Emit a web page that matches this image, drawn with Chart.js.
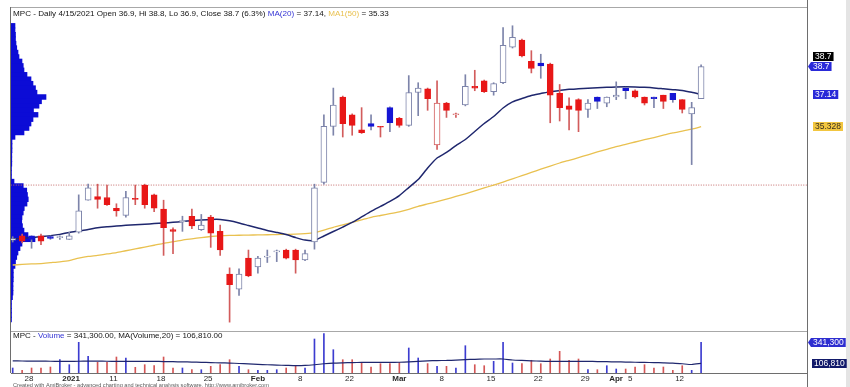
<!DOCTYPE html>
<html>
<head>
<meta charset="utf-8">
<title>MPC - Daily</title>
<script src="https://cdn.jsdelivr.net/npm/chart.js@4.4.1/dist/chart.umd.min.js"></script>
<style>
  html, body { margin: 0; padding: 0; background: #ffffff; overflow: hidden; }
  canvas { display: block; }
</style>
</head>
<body>
<canvas id="priceChart" width="850" height="387"></canvas>
<script>
// ---- data ----
const symbol = 'MPC';
const dates = [
  '2020-12-25','2020-12-28','2020-12-29','2020-12-30','2020-12-31',
  '2021-01-04','2021-01-05','2021-01-06','2021-01-07','2021-01-08',
  '2021-01-11','2021-01-12','2021-01-13','2021-01-14','2021-01-15',
  '2021-01-18','2021-01-19','2021-01-20','2021-01-21','2021-01-22',
  '2021-01-25','2021-01-26','2021-01-27','2021-01-28','2021-01-29',
  '2021-02-01','2021-02-02','2021-02-03','2021-02-04','2021-02-05',
  '2021-02-08','2021-02-09','2021-02-17','2021-02-18','2021-02-19',
  '2021-02-22','2021-02-23','2021-02-24','2021-02-25','2021-02-26',
  '2021-03-01','2021-03-02','2021-03-03','2021-03-04','2021-03-05',
  '2021-03-08','2021-03-09','2021-03-10','2021-03-11','2021-03-12',
  '2021-03-15','2021-03-16','2021-03-17','2021-03-18','2021-03-19',
  '2021-03-22','2021-03-23','2021-03-24','2021-03-25','2021-03-26',
  '2021-03-29','2021-03-30','2021-03-31','2021-04-01','2021-04-02',
  '2021-04-05','2021-04-06','2021-04-07','2021-04-08','2021-04-09',
  '2021-04-12','2021-04-13','2021-04-14','2021-04-15'
];
const opens = [
  28.95, 29.2, 29.2, 29.2, 29.15, 29.1, 29.0, 29.4, 31.2, 31.4,
  31.35, 30.75, 30.35, 31.3, 32.05, 31.5, 30.7, 29.55, 30.0, 30.3,
  29.55, 30.25, 29.45, 27.05, 26.2, 27.95, 27.45, 28.0, 28.3, 28.4,
  28.4, 27.85, 28.85, 32.2, 35.35, 37.0, 36.0, 35.15, 35.5, 35.35,
  36.4, 35.8, 35.4, 37.25, 37.45, 34.3, 36.65, 36.0, 36.55, 37.6,
  37.9, 37.3, 37.8, 39.8, 40.2, 39.0, 38.9, 38.85, 37.2, 36.5,
  36.85, 36.3, 37.0, 36.65, 37.0, 37.5, 37.35, 37.0, 37.0, 37.1,
  37.2, 36.85, 36.05, 36.9
];
const highs = [
  29.15, 29.3, 29.2, 29.3, 29.2, 29.2, 29.4, 31.5, 32.1, 32.1,
  32.05, 31.0, 31.7, 32.05, 32.1, 31.55, 31.2, 29.65, 30.3, 30.7,
  30.4, 30.35, 29.8, 27.4, 27.35, 28.4, 28.05, 28.4, 28.4, 28.45,
  28.45, 28.4, 32.1, 36.0, 37.5, 37.05, 36.05, 36.4, 36.0, 35.35,
  36.45, 35.85, 38.2, 37.8, 37.5, 37.9, 36.7, 36.1, 38.25, 38.5,
  37.95, 37.8, 40.9, 41.0, 40.25, 39.6, 39.4, 38.9, 37.7, 36.95,
  36.9, 36.85, 37.0, 37.0, 37.85, 37.55, 37.4, 37.0, 37.0, 37.1,
  37.2, 36.85, 36.7, 38.8
];
const lows = [
  28.85, 28.8, 28.5, 28.7, 29.0, 29.0, 29.0, 29.35, 31.2, 30.75,
  30.9, 30.3, 30.25, 30.95, 30.75, 30.55, 28.1, 28.2, 29.45, 29.6,
  29.5, 28.55, 28.1, 24.35, 25.85, 26.9, 27.1, 27.7, 27.75, 27.9,
  27.1, 27.8, 28.45, 32.1, 34.85, 34.75, 34.85, 34.95, 35.15, 34.75,
  35.05, 35.3, 35.35, 35.95, 36.25, 34.05, 35.85, 35.85, 36.5, 37.35,
  37.25, 37.1, 37.75, 39.75, 39.25, 38.35, 38.05, 35.55, 35.65, 35.15,
  35.05, 35.85, 36.35, 36.45, 36.85, 36.9, 36.95, 36.55, 36.4, 36.35,
  36.7, 36.1, 33.2, 36.9
];
const closes = [
  29.05, 28.9, 29.0, 28.9, 29.05, 29.1, 29.2, 30.6, 31.9, 31.25,
  30.95, 30.6, 31.35, 31.25, 30.95, 30.75, 29.65, 29.45, 30.05, 29.75,
  29.8, 29.35, 28.4, 26.45, 27.05, 26.95, 27.95, 28.05, 28.3, 27.95,
  27.85, 28.2, 31.9, 35.35, 36.55, 35.5, 35.4, 35.0, 35.35, 35.3,
  35.55, 35.4, 37.25, 37.5, 36.9, 36.65, 36.25, 36.0, 37.6, 37.5,
  37.3, 37.75, 39.9, 40.35, 39.3, 38.6, 38.75, 37.1, 36.4, 36.3,
  36.25, 36.65, 36.75, 37.0, 37.1, 37.35, 37.0, 36.65, 36.9, 36.75,
  36.85, 36.3, 36.4, 38.7
];
const ma20 = [
  29.02, 29.06, 29.10, 29.16, 29.21, 29.28, 29.39, 29.47, 29.55, 29.65,
  29.71, 29.75, 29.79, 29.82, 29.85, 29.89, 29.92, 29.96, 30.00, 30.05,
  30.09, 30.12, 30.12, 30.04, 29.92, 29.78, 29.64, 29.50, 29.39, 29.27,
  29.10, 28.96, 28.94, 29.19, 29.44, 29.69, 29.95, 30.26, 30.57, 30.85,
  31.13, 31.46, 31.91, 32.36, 33.01, 33.57, 33.88, 34.27, 34.61, 35.06,
  35.51, 35.90, 36.38, 36.72, 36.91, 37.08, 37.19, 37.30, 37.36, 37.43,
  37.46, 37.49, 37.52, 37.54, 37.56, 37.57, 37.56, 37.54, 37.51, 37.46,
  37.41, 37.36, 37.26, 37.14
];
const ma50 = [
  27.56, 27.59, 27.62, 27.64, 27.69, 27.74, 27.81, 27.94, 28.04, 28.10,
  28.18, 28.25, 28.36, 28.46, 28.57, 28.67, 28.78, 28.87, 28.96, 29.03,
  29.10, 29.16, 29.20, 29.22, 29.23, 29.24, 29.25, 29.26, 29.27, 29.28,
  29.29, 29.32, 29.38, 29.52, 29.68, 29.82, 29.96, 30.10, 30.24, 30.34,
  30.44, 30.55, 30.69, 30.86, 30.99, 31.12, 31.26, 31.41, 31.56, 31.72,
  31.89, 32.05, 32.22, 32.40, 32.58, 32.76, 32.94, 33.12, 33.29, 33.44,
  33.59, 33.75, 33.91, 34.06, 34.21, 34.34, 34.47, 34.60, 34.72, 34.85,
  34.98, 35.08, 35.19, 35.328
];
const vols = [
  55800, 30100, 55800, 55800, 66900, 148400, 92600, 342400, 186300, 119300,
  119300, 178500, 167300, 63600, 92600, 81400, 178500, 55800, 55800, 36800,
  36800, 74700, 92600, 148400, 74700, 36800, 30100, 30100, 36800, 55800,
  74700, 55800, 379200, 438400, 259900, 148400, 148400, 119300, 66900, 103700,
  103700, 119300, 278900, 167300, 105000, 74700, 74700, 55800, 304500, 92600,
  81400, 130500, 342400, 111500, 103700, 141700, 103700, 156200, 242000, 141700,
  156200, 36800, 36800, 81400, 44600, 44600, 66900, 92600, 55800, 66900,
  30100, 81400, 30100, 341300
];
const volMa20 = [
  135000, 134000, 133000, 132000, 131000, 130000, 130000, 131000, 132000, 132000,
  131000, 130000, 130000, 129000, 129000, 129000, 128000, 126000, 124000, 122000,
  119000, 116000, 113000, 111000, 106000, 101000, 96000, 92000, 88000, 85000,
  82000, 84000, 92000, 103000, 111000, 114000, 116000, 118000, 118000, 118000,
  118000, 120000, 125000, 130000, 136000, 139000, 140000, 144000, 149000, 153000,
  156000, 156000, 156000, 145000, 140000, 136000, 132000, 129000, 129000, 129000,
  129000, 129000, 128000, 126000, 124000, 122000, 120000, 118000, 116000, 114000,
  111000, 103000, 95000, 106810
];
// volume-at-price profile (levels in price, volume in thousands)
const profLevels = [
  41.0, 40.75, 40.5, 40.25, 40.0, 39.75, 39.5, 39.25, 39.0, 38.75,
  38.5, 38.25, 38.0, 37.75, 37.5, 37.25, 37.0, 36.75, 36.5, 36.25,
  36.0, 35.75, 35.5, 35.25, 35.0, 34.75, 34.5, 34.25, 34.0, 33.75,
  33.5, 33.25, 33.0, 32.75, 32.5, 32.25, 32.0, 31.75, 31.5, 31.25,
  31.0, 30.75, 30.5, 30.25, 30.0, 29.75, 29.5, 29.25, 29.0, 28.75,
  28.5, 28.25, 28.0, 27.75, 27.5, 27.25, 27.0, 26.75, 26.5, 26.25,
  26.0, 25.75, 25.5, 25.25, 25.0, 24.75, 24.5
];
const profVols = [
  80, 80, 90, 90, 100, 115, 140, 160, 220, 245,
  260, 320, 400, 440, 490, 520, 700, 610, 560, 450,
  540, 440, 400, 360, 260, 80, 20, 20, 20, 16,
  16, 16, 10, 10, 10, 60, 245, 315, 330, 345,
  320, 265, 245, 220, 215, 230, 260, 340, 480, 220,
  180, 140, 115, 90, 80, 46, 46, 46, 40, 40,
  40, 30, 10, 10, 10, 10, 10
];
const refLevel = 32.05;

// ---- look ----
const FONT = "'Liberation Sans', Arial, sans-serif";
const RED = '#e81717';
const BLUE = '#1616d4';
const UP_LINE = '#7d84aa';
const DOWN_LINE = '#d25c5c';
const NAVY = '#1f276e';
const GOLD = '#e9c150';
const PROFILE_BLUE = '#0c0cd6';
const VOL_BLUE = '#3c3cd0';
const VOL_RED = '#d45656';
const TICK_SHIFT = 0.25;
const MONTHS = ['Jan','Feb','Mar','Apr','May','Jun','Jul','Aug','Sep','Oct','Nov','Dec'];

const lastIdx = closes.length - 1;
Chart.defaults.font.family = FONT;

function closedUp(i) { return i === 0 || closes[i] >= closes[i - 1]; }
function bodyFill(i) {
  if (closes[i] >= opens[i]) return '#ffffff';
  return closedUp(i) ? BLUE : RED;
}
function bodyLine(i) {
  if (closes[i] >= opens[i]) return closedUp(i) ? UP_LINE : DOWN_LINE;
  return closedUp(i) ? BLUE : RED;
}
function wickColor(i) { return closedUp(i) ? UP_LINE : DOWN_LINE; }

function dateParts(i) {
  const [y, m, d] = dates[i].split('-').map(Number);
  return { y, m, d };
}
function monthStart(i) { return i > 0 && dateParts(i).m !== dateParts(i - 1).m; }
function isMonday(i) {
  const p = dateParts(i);
  return new Date(Date.UTC(p.y, p.m - 1, p.d)).getUTCDay() === 1;
}
function tickText(i) {
  const p = dateParts(i);
  if (monthStart(i)) return p.m === 1 ? String(p.y) : MONTHS[p.m - 1];
  return String(p.d);
}
const tickIdx = dates.map((_, i) => i).filter(i => monthStart(i) || isMonday(i));

function fmtVol(v) {
  return v.toLocaleString('en-US', { minimumFractionDigits: 2, maximumFractionDigits: 2 });
}

function drawSegments(ctx, x, y, segs) {
  segs.forEach(([txt, col]) => {
    ctx.fillStyle = col;
    ctx.fillText(txt, x, y);
    x += ctx.measureText(txt).width;
  });
}

function drawTag(ctx, text, yc, x0, bg, fg, arrow) {
  ctx.font = '8.5px ' + FONT;
  const w = ctx.measureText(text).width + 4;
  const h = 9;
  const top = Math.round(yc - h / 2);
  ctx.fillStyle = bg;
  ctx.fillRect(x0, top, w, h);
  if (arrow) {
    ctx.beginPath();
    ctx.moveTo(x0 - 3, top + h / 2);
    ctx.lineTo(x0, top);
    ctx.lineTo(x0, top + h);
    ctx.closePath();
    ctx.fill();
  }
  ctx.fillStyle = fg;
  ctx.textBaseline = 'middle';
  ctx.fillText(text, x0 + 2, top + h / 2 + 0.5);
}

const paneFrame = {
  id: 'paneFrame',
  afterDatasetsDraw(chart) {
    const { ctx, chartArea: { left, right, top, bottom } } = chart;
    const sep = Math.round(chart.scales.y.bottom) + 0.5;
    ctx.save();
    ctx.lineWidth = 1;
    ctx.strokeStyle = '#a8a8a8';
    ctx.beginPath();
    ctx.moveTo(left, top + 0.5); ctx.lineTo(right, top + 0.5);
    ctx.moveTo(left, sep); ctx.lineTo(right, sep);
    ctx.stroke();
    ctx.strokeStyle = '#6e6e6e';
    ctx.beginPath();
    ctx.moveTo(left - 0.5, top); ctx.lineTo(left - 0.5, bottom);
    ctx.moveTo(left, bottom + 0.5); ctx.lineTo(right, bottom + 0.5);
    ctx.moveTo(right + 0.5, 0); ctx.lineTo(right + 0.5, chart.height);
    ctx.stroke();
    ctx.fillStyle = '#e4e4e4';
    ctx.fillRect(chart.width - 4, 0, 4, chart.height);
    ctx.restore();
  }
};

const captions = {
  id: 'captions',
  afterDraw(chart) {
    const { ctx, chartArea } = chart;
    const yP = chart.scales.y;
    const yV = chart.scales.yv;
    const p = dateParts(lastIdx);
    const pct = ((closes[lastIdx] / closes[lastIdx - 1] - 1) * 100).toFixed(1);
    ctx.save();
    ctx.textBaseline = 'middle';
    ctx.font = '8.1px ' + FONT;
    drawSegments(ctx, chartArea.left + 2, 14, [
      [`${symbol} - Daily ${p.m}/${p.d}/${p.y} Open ${opens[lastIdx]}, Hi ${highs[lastIdx]}, Lo ${lows[lastIdx]}, Close ${closes[lastIdx]} (${pct}%) `, '#141414'],
      ['MA(20)', '#3434d4'],
      [` = ${ma20[lastIdx].toFixed(2)}, `, '#141414'],
      ['MA1(50)', GOLD],
      [` = ${ma50[lastIdx].toFixed(2)}`, '#141414']
    ]);
    ctx.font = '8px ' + FONT;
    drawSegments(ctx, chartArea.left + 2, yV.top + 4.5, [
      [`${symbol} - `, '#141414'],
      ['Volume', '#3434d4'],
      [` = ${fmtVol(vols[lastIdx])}, MA(Volume,20) = ${fmtVol(volMa20[lastIdx])}`, '#141414']
    ]);
    ctx.font = '5.6px ' + FONT;
    ctx.fillStyle = '#5a5a5a';
    ctx.textBaseline = 'top';
    ctx.fillText('Created with AmiBroker - advanced charting and technical analysis software. http://www.amibroker.com', chartArea.left + 2, 382.5);

    const tagX = chartArea.right + 4;
    const yClose = yP.getPixelForValue(closes[lastIdx]);
    drawTag(ctx, String(closes[lastIdx]), yClose - 10, tagX + 2, '#000000', '#ffffff', false);
    drawTag(ctx, String(closes[lastIdx]), yClose, tagX, '#2a2ad8', '#ffffff', true);
    drawTag(ctx, ma20[lastIdx].toFixed(2), yP.getPixelForValue(ma20[lastIdx]), tagX + 2, '#2a2ad8', '#ffffff', false);
    drawTag(ctx, ma50[lastIdx].toFixed(3), yP.getPixelForValue(ma50[lastIdx]), tagX + 2, '#f2c640', '#3a3020', false);
    drawTag(ctx, vols[lastIdx].toLocaleString('en-US'), yV.getPixelForValue(vols[lastIdx]), tagX, '#2e2ed0', '#ffffff', true);
    drawTag(ctx, Math.round(volMa20[lastIdx]).toLocaleString('en-US'), yV.getPixelForValue(volMa20[lastIdx]), tagX + 1, '#121a6a', '#ffffff', false);
    ctx.restore();
  }
};

function hiddenAxis(extra) {
  return Object.assign({
    type: 'linear', offset: false, beginAtZero: false,
    grid: { display: false, drawTicks: false },
    border: { display: false },
    ticks: { display: false }
  }, extra);
}

new Chart(document.getElementById('priceChart'), {
  type: 'bar',
  data: {
    datasets: [
      {
        label: 'body', xAxisID: 'x', yAxisID: 'y',
        data: opens.map((o, i) => ({ x: i, y: [o, closes[i]] })),
        backgroundColor: c => bodyFill(c.dataIndex),
        borderColor: c => bodyLine(c.dataIndex),
        borderWidth: 1, borderSkipped: false, barThickness: 6, minBarLength: 1, grouped: false
      },
      {
        label: 'wick', xAxisID: 'x', yAxisID: 'y',
        data: lows.map((l, i) => ({ x: i, y: [l, highs[i]] })),
        backgroundColor: c => wickColor(c.dataIndex),
        borderWidth: 0, barThickness: 1, grouped: false
      },
      {
        type: 'line', label: 'MA(20)', xAxisID: 'x', yAxisID: 'y',
        data: ma20.map((v, i) => ({ x: i, y: v })),
        borderColor: NAVY, borderWidth: 1.5, pointRadius: 0, tension: 0.2
      },
      {
        type: 'line', label: 'MA1(50)', xAxisID: 'x', yAxisID: 'y',
        data: ma50.map((v, i) => ({ x: i, y: v })),
        borderColor: GOLD, borderWidth: 1.3, pointRadius: 0, tension: 0.2
      },
      {
        type: 'line', label: 'level', xAxisID: 'x', yAxisID: 'y',
        data: [{ x: -1, y: refLevel }, { x: 90, y: refLevel }],
        borderColor: '#c46a6a', borderWidth: 1, borderDash: [1, 1.5], pointRadius: 0
      },
      {
        label: 'profile', indexAxis: 'y', xAxisID: 'xp', yAxisID: 'y',
        data: profLevels.map((lv, i) => ({ x: profVols[i], y: lv })),
        backgroundColor: PROFILE_BLUE, borderWidth: 0, barThickness: 4.7, grouped: false
      },
      {
        type: 'line', label: 'MA(Volume,20)', xAxisID: 'x', yAxisID: 'yv',
        data: volMa20.map((v, i) => ({ x: i, y: v })),
        borderColor: NAVY, borderWidth: 1.2, pointRadius: 0, tension: 0.2
      },
      {
        label: 'Volume', xAxisID: 'x', yAxisID: 'yv',
        data: vols.map((v, i) => ({ x: i, y: v })),
        backgroundColor: c => closes[c.dataIndex] >= opens[c.dataIndex] ? VOL_BLUE : VOL_RED,
        borderWidth: 0, barThickness: 1, grouped: false
      }
    ]
  },
  options: {
    responsive: false,
    animation: false,
    devicePixelRatio: 1,
    events: [],
    layout: { padding: { left: 11, top: 7, right: 0, bottom: 0 } },
    plugins: { legend: { display: false }, tooltip: { enabled: false } },
    scales: {
      x: {
        type: 'linear', position: 'bottom', min: -0.18, max: 84.23, offset: false,
        grid: { display: false, drawTicks: false }, border: { display: false },
        afterBuildTicks: s => { s.ticks = tickIdx.map(i => ({ value: i + TICK_SHIFT })); },
        afterFit: s => { s.height = 14; },
        ticks: {
          autoSkip: false, maxRotation: 0, minRotation: 0, align: 'start', padding: 1,
          color: '#2a2a2a',
          font: c => ({
            family: FONT, size: 8,
            weight: c.tick && monthStart(Math.round(c.tick.value - TICK_SHIFT)) ? 'bold' : 'normal'
          }),
          callback: v => tickText(Math.round(v - TICK_SHIFT))
        }
      },
      xp: hiddenAxis({ axis: 'x', position: 'bottom', display: false, min: 0, max: 15920 }),
      y: hiddenAxis({ position: 'right', stack: 'panes', stackWeight: 324, min: 23.852, max: 42.054, afterFit: s => { s.width = 43; } }),
      yv: hiddenAxis({ axis: 'y', position: 'right', stack: 'panes', stackWeight: 42, min: 0, max: 468500, afterFit: s => { s.width = 43; } })
    }
  },
  plugins: [paneFrame, captions]
});
</script>
</body>
</html>
